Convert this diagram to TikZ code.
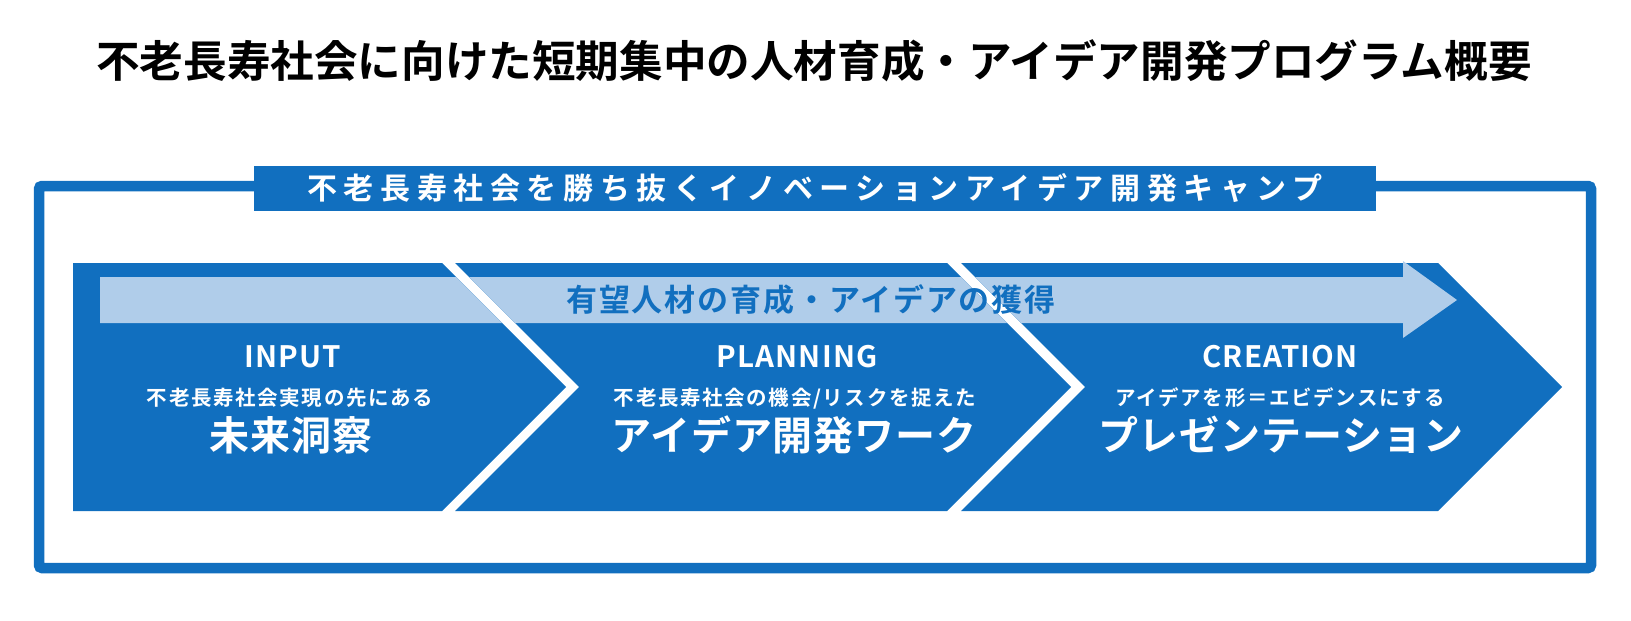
\documentclass[tikz,border=0pt]{standalone}
\usepackage{fontspec}
\setmainfont{Noto Sans CJK JP}[BoldFont={Noto Sans CJK JP Bold}]
\newcommand\fsz[1]{\fontsize{#1pt}{#1pt}\selectfont}
\definecolor{mainblue}{RGB}{17,111,191}
\definecolor{lightblue}{RGB}{176,205,234}
\tikzset{
  lbl/.style={anchor=base,inner sep=0pt,text=white,font=\bfseries\fsz{29.5}\addfontfeature{LetterSpace=4}},
  sublbl/.style={anchor=base,inner sep=0pt,text=white,font=\bfseries\fsz{20.5}\addfontfeature{LetterSpace=8}},
  biglbl/.style={anchor=base,inner sep=0pt,text=white,font=\bfseries\fsz{40}\addfontfeature{LetterSpace=2}},
}
\begin{document}
\begin{tikzpicture}[x=1pt,y=-1pt]
\useasboundingbox (0,0) rectangle (1631,621);
% outer frame
\draw[mainblue,line width=10.5pt,rounded corners=3pt] (39,186) rectangle (1591,568);
% title box
\fill[mainblue] (254,166) rectangle (1376,211);
\node[anchor=base,inner sep=0pt,text=white,font=\bfseries\fsz{30}\addfontfeature{LetterSpace=22}] (camp) at (815,199.5) {不老長寿社会を勝ち抜くイノベーションアイデア開発キャンプ};
% main title
\node[anchor=base,inner sep=0pt,text=black,font=\bfseries\fsz{43.6}] (title) at (814,77.5) {不老長寿社会に向けた短期集中の人材育成・アイデア開発プログラム概要};
% chevrons
\fill[mainblue] (73,263) -- (442,263) -- (566,387) -- (442,511) -- (73,511) -- cycle;
\fill[mainblue] (455,263) -- (947,263) -- (1071,387) -- (947,511) -- (455,511) -- (579,387) -- cycle;
\fill[mainblue] (961,263) -- (1438,263) -- (1562,387) -- (1438,511) -- (961,511) -- (1085,387) -- cycle;
% light arrow clipped to the chevrons
\begin{scope}
\clip (73,255) -- (442,255) -- (442,263) -- (566,387) -- (442,511) -- (73,511) -- cycle
      (455,255) -- (947,255) -- (947,263) -- (1071,387) -- (947,511) -- (455,511) -- (579,387) -- (455,263) -- cycle
      (961,255) -- (1438,255) -- (1438,263) -- (1562,387) -- (1438,511) -- (961,511) -- (1085,387) -- (961,263) -- cycle;
\fill[lightblue] (100,277) -- (1403,277) -- (1403,261) -- (1457,300) -- (1403,338) -- (1403,323) -- (100,323) -- cycle;
\end{scope}
\node[anchor=base,inner sep=0pt,text=mainblue,font=\bfseries\fsz{31}\addfontfeature{LetterSpace=6}] (goal) at (811,311.5) {有望人材の育成・アイデアの獲得};
% chevron texts
\node[lbl] (inlab) at (292.5,367.3) {INPUT};
\node[sublbl] (insub) at (290,405.5) {不老長寿社会実現の先にある};
\node[biglbl] (inbig) at (291,450.5) {未来洞察};
\node[lbl] (pllab) at (797,367.3) {PLANNING};
\node[sublbl] (plsub) at (795,405.5) {不老長寿社会の機会/リスクを捉えた};
\node[biglbl] (plbig) at (794,450.5) {アイデア開発ワーク};
\node[lbl] (crlab) at (1280,367.3) {CREATION};
\node[sublbl] (crsub) at (1280,405.5) {アイデアを形＝エビデンスにする};
\node[biglbl] (crbig) at (1281,450.5) {プレゼンテーション};
\end{tikzpicture}
\end{document}
